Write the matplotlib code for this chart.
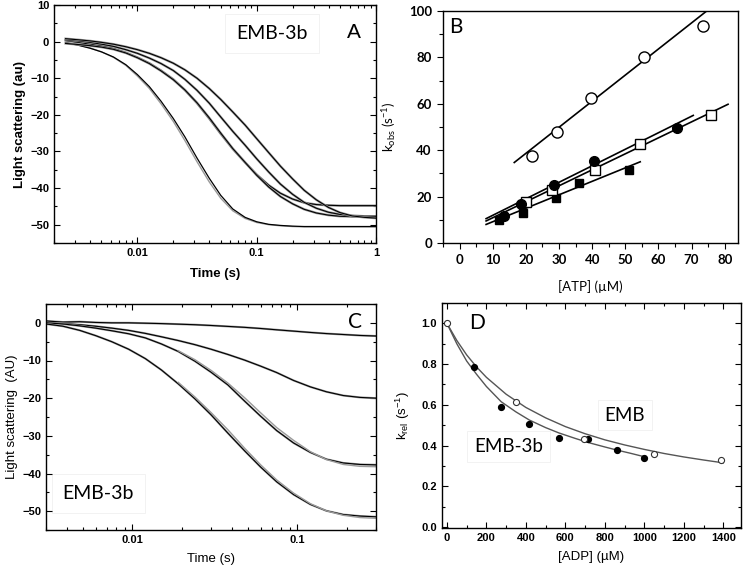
import matplotlib
matplotlib.use("Agg")
import matplotlib.pyplot as plt
from matplotlib.ticker import MultipleLocator, FixedLocator, NullFormatter, LogLocator
import numpy as np

plt.rcParams['font.family'] = ['Liberation Sans', 'DejaVu Sans']

# ---- panel A: light scattering traces, EMB-3b, several [ATP]
tA = [0.0025, 0.0032, 0.004, 0.005, 0.0063, 0.008, 0.01, 0.0126, 0.0158, 0.02,
      0.025, 0.0316, 0.04, 0.05, 0.063, 0.08, 0.1, 0.126, 0.158, 0.2,
      0.25, 0.316, 0.4, 0.5, 0.63, 0.8, 1.0]
a_fast = [-0.3, -1.0, -1.8, -2.8, -4.2, -6.3, -9.0, -12.3, -16.3, -21.0,
          -26.0, -31.8, -37.3, -42.0, -45.7, -48.0, -49.2, -49.9, -50.2, -50.4,
          -50.5, -50.5, -50.5, -50.5, -50.5, -50.5, -50.5]
a_fast_fit = [-0.2, -0.9, -1.7, -2.8, -4.3, -6.5, -9.4, -12.8, -17.0, -21.8,
              -27.0, -32.8, -38.3, -42.8, -46.2, -48.3, -49.4, -50.0, -50.3, -50.5,
              -50.6, -50.6, -50.6, -50.6, -50.6, -50.6, -50.6]
a_2 = [0.3, -0.2, -0.7, -1.2, -1.9, -3.0, -4.3, -5.9, -7.9, -10.3,
       -13.2, -16.8, -21.0, -25.2, -29.3, -33.0, -36.3, -39.2, -41.4, -43.0,
       -44.0, -44.5, -44.7, -44.8, -44.8, -44.8, -44.8]
a_3 = [-0.5, -0.8, -1.1, -1.5, -2.1, -3.1, -4.4, -6.0, -8.0, -10.4,
       -13.2, -16.7, -20.8, -25.0, -29.2, -33.0, -36.5, -39.7, -42.3, -44.3,
       -45.8, -46.8, -47.4, -47.7, -47.8, -47.8, -47.8]
a_4 = [0.5, 0.2, -0.2, -0.7, -1.3, -2.2, -3.2, -4.5, -6.0, -7.9,
       -10.3, -13.3, -16.8, -20.6, -24.5, -28.3, -32.0, -35.6, -38.9, -41.7,
       -43.9, -45.5, -46.6, -47.2, -47.5, -47.7, -47.7]
a_slow = [0.8, 0.5, 0.2, -0.2, -0.7, -1.4, -2.2, -3.2, -4.4, -5.9,
          -7.7, -10.0, -12.8, -15.8, -19.2, -22.8, -26.5, -30.3, -34.0, -37.5,
          -40.6, -43.2, -45.3, -46.7, -47.6, -48.0, -48.2]
traces_A = [a_2, a_3, a_4, a_slow]

# ---- panel B: kobs vs [ATP]
b_oc_x = [22, 29.5, 39.5, 55.5, 73.5]
b_oc_y = [37.5, 48, 62.5, 80, 93.5]
b_fc_x = [13.5, 18.5, 28.5, 40.5, 65.5]
b_fc_y = [11.5, 17, 25, 35.5, 49.5]
b_os_x = [20, 28, 41, 54.5, 76]
b_os_y = [17.5, 23, 31.5, 42.5, 55]
b_fs_x = [12, 19, 29, 36, 51]
b_fs_y = [10, 13, 19.5, 26, 31.5]
# linear fits, end points
b_fit_oc = ([16.5, 75.0], [34.7, 100.5])
b_fit_fc = ([8.0, 70.5], [10.5, 55.0])
b_fit_os = ([8.0, 81.0], [9.5, 59.8])
b_fit_fs = ([8.0, 54.5], [8.0, 35.0])

# ---- panel C: light scattering traces, EMB-3b, with ADP
tC = [0.003, 0.0038, 0.0048, 0.006, 0.0075, 0.0095, 0.012, 0.015, 0.019, 0.024,
      0.03, 0.038, 0.048, 0.06, 0.075, 0.095, 0.12, 0.15, 0.19, 0.24, 0.3]
c_1 = [0.5, 0.2, 0.3, 0.1, 0.0, 0.0, -0.1, -0.2, -0.35, -0.5,
       -0.7, -0.95, -1.2, -1.5, -1.85, -2.2, -2.55, -2.85, -3.1, -3.35, -3.5]
c_2 = [0.0, -0.2, -0.5, -0.9, -1.4, -2.0, -2.8, -3.7, -4.7, -5.8,
       -7.0, -8.4, -9.9, -11.5, -13.2, -15.3, -17.0, -18.3, -19.3, -19.8, -20.0]
c_3 = [0.0, -0.3, -0.8, -1.4, -2.1, -2.9, -4.0, -5.6, -7.6, -10.2,
       -13.1, -16.5, -20.8, -24.8, -28.6, -31.9, -34.4, -36.2, -37.2, -37.6, -37.7]
c_4 = [-0.3, -0.9, -2.0, -3.4, -5.0, -7.0, -9.5, -12.5, -16.2, -20.2,
       -24.4, -29.3, -34.0, -38.3, -42.2, -45.6, -48.2, -49.9, -50.9, -51.3, -51.5]
traces_C = [c_1, c_2, c_3, c_4]
# fitted curves for the two big traces, from t = 0.019 s on
c_3_fit = [-7.4, -9.8, -12.6, -16.0, -19.9, -23.9, -27.8, -31.2, -34.2, -36.3,
           -37.6, -38.1, -38.2]
c_4_fit = [-15.8, -19.7, -23.8, -28.4, -33.3, -37.7, -41.7, -45.2, -48.0, -49.9,
           -51.1, -51.7, -51.9]

# ---- panel D: krel vs [ADP]
d_emb_x = [0, 352, 696, 1047, 1391]
d_emb_y = [1.0, 0.616, 0.431, 0.356, 0.327]
d_3b_x = [138, 275, 418, 567, 715, 860, 1000]
d_3b_y = [0.788, 0.588, 0.508, 0.438, 0.430, 0.377, 0.338]
d_fit_emb_x = [0, 50, 100, 150, 200, 300, 400, 500, 600, 700, 800, 900,
               1000, 1100, 1200, 1300, 1400]
d_fit_emb_y = [1.0, 0.916, 0.845, 0.786, 0.735, 0.652, 0.587, 0.536, 0.493,
               0.458, 0.428, 0.403, 0.381, 0.361, 0.344, 0.329, 0.315]
d_fit_3b_x = [0, 50, 100, 150, 200, 275, 350, 418, 500, 567, 650, 715, 800,
              860, 930, 1000]
d_fit_3b_y = [1.0, 0.9, 0.815, 0.75, 0.69, 0.615, 0.565, 0.525, 0.488, 0.462,
              0.435, 0.415, 0.393, 0.378, 0.362, 0.345]

W, H = 745, 566
fig = plt.figure(figsize=(W / 100, H / 100), dpi=100)

def frame(l, t, r, b):
    return fig.add_axes([l / W, 1 - b / H, (r - l) / W, (b - t) / H])

axA = frame(54, 5, 376, 243)
axB = frame(443, 11, 738, 243)
axC = frame(46, 304, 376, 530)
axD = frame(442, 303, 741, 528)

cal = ['Lato', 'DejaVu Sans']
box = dict(facecolor='white', edgecolor='#f0f0f0', linewidth=0.6)
grey = '#9a9a9a'

def inner_ticks(ax):
    ax.tick_params(which='both', direction='in', top=True, right=True, width=0.8)
    ax.tick_params(which='major', length=4)
    ax.tick_params(which='minor', length=2.5)
    for lab in ax.get_xticklabels() + ax.get_yticklabels():
        lab.set_fontweight('bold')
        lab.set_fontsize(8)
    for s in ax.spines.values():
        s.set_linewidth(1.0)

# A
axA.plot(tA, a_fast_fit, color=grey, lw=1.0)
axA.plot(tA, a_fast, color='black', lw=0.9)
for y in traces_A:
    axA.plot(tA, y, color=grey, lw=1.7)
    axA.plot(tA, y, color='black', lw=0.8)
axA.set_xscale('log')
axA.set_xlim(0.002, 1)
axA.set_ylim(-55, 10)
axA.xaxis.set_major_locator(FixedLocator([0.01, 0.1, 1]))
axA.xaxis.set_minor_locator(LogLocator(subs=np.arange(2, 10)))
axA.xaxis.set_minor_formatter(NullFormatter())
axA.set_xticklabels(['0.01', '0.1', '1'])
axA.yaxis.set_major_locator(MultipleLocator(10))
axA.yaxis.set_minor_locator(MultipleLocator(5))
inner_ticks(axA)
axA.set_xlabel('Time (s)', fontsize=9.5, fontweight='bold', labelpad=7)
axA.set_ylabel('Light scattering (au)', fontsize=9.5, fontweight='bold', labelpad=3)
axA.text(0.677, 0.882, 'EMB-3b', transform=axA.transAxes, ha='center', va='center',
         fontsize=14, family=cal, bbox=dict(box, pad=8), zorder=1)
axA.text(0.93, 0.885, 'A', transform=axA.transAxes, ha='center', va='center',
         fontsize=15)

# B
for xs, ys in [b_fit_oc, b_fit_fc, b_fit_os, b_fit_fs]:
    axB.plot(xs, ys, color='black', lw=1.2)
axB.plot(b_fs_x, b_fs_y, 's', color='black', ms=6, zorder=3)
axB.plot(b_os_x, b_os_y, 's', mfc='white', mec='black', mew=1, ms=6.5, zorder=3)
axB.plot(b_fc_x, b_fc_y, 'o', color='black', ms=7, zorder=4)
axB.plot(b_oc_x, b_oc_y, 'o', mfc='white', mec='black', mew=1, ms=8, zorder=3)
axB.set_xlim(-5, 84)
axB.set_ylim(0, 100)
axB.xaxis.set_major_locator(MultipleLocator(10))
axB.xaxis.set_minor_locator(MultipleLocator(5))
axB.yaxis.set_major_locator(MultipleLocator(20))
axB.yaxis.set_minor_locator(MultipleLocator(10))
axB.tick_params(which='both', direction='out', width=0.8, labelsize=9.5, pad=4)
axB.tick_params(which='major', length=4)
axB.tick_params(which='minor', length=3)
for lab in axB.get_xticklabels() + axB.get_yticklabels():
    lab.set_family(cal)
    lab.set_fontweight('bold')
for s in axB.spines.values():
    s.set_linewidth(1.0)
axB.set_xlabel('[ATP] (\u00b5M)', fontsize=9.5, family=cal, labelpad=10)
axB.set_ylabel('k$_{\\mathregular{obs}}$ (s$^{\\mathregular{-1}}$)', fontsize=9.5,
               family=cal, labelpad=8)
axB.text(0.042, 0.93, 'B', transform=axB.transAxes, ha='center', va='center',
         fontsize=15, family=cal)

# C
for y in traces_C:
    axC.plot(tC, y, color=grey, lw=1.5)
    axC.plot(tC, y, color='black', lw=0.8)
axC.plot(tC[8:], c_3_fit, color=grey, lw=1.0)
axC.plot(tC[8:], c_4_fit, color=grey, lw=1.0)
axC.set_xscale('log')
axC.set_xlim(0.003, 0.3)
axC.set_ylim(-55, 5)
axC.xaxis.set_major_locator(FixedLocator([0.01, 0.1]))
axC.xaxis.set_minor_locator(LogLocator(subs=np.arange(2, 10)))
axC.xaxis.set_minor_formatter(NullFormatter())
axC.set_xticklabels(['0.01', '0.1'])
axC.yaxis.set_major_locator(MultipleLocator(10))
axC.yaxis.set_minor_locator(MultipleLocator(5))
inner_ticks(axC)
axC.set_xlabel('Time (s)', fontsize=9.5, labelpad=6)
axC.set_ylabel('Light scattering  (AU)', fontsize=9.5, labelpad=3)
axC.text(0.159, 0.162, 'EMB-3b', transform=axC.transAxes, ha='center', va='center',
         fontsize=14, family=cal, bbox=dict(box, pad=8), zorder=1)
axC.text(0.936, 0.922, 'C', transform=axC.transAxes, ha='center', va='center',
         fontsize=15, family=cal)

# D
axD.plot(d_fit_emb_x, d_fit_emb_y, color='#555555', lw=1.0, zorder=2)
axD.plot(d_fit_3b_x, d_fit_3b_y, color='#555555', lw=1.0, zorder=2)
axD.plot(d_3b_x, d_3b_y, 'o', color='black', ms=4.2, zorder=3)
axD.plot(d_emb_x, d_emb_y, 'o', mfc='white', mec='#333333', mew=0.8, ms=4.4, zorder=3)
axD.set_xlim(-25, 1490)
axD.set_ylim(-0.005, 1.1)
axD.xaxis.set_major_locator(MultipleLocator(200))
axD.xaxis.set_minor_locator(MultipleLocator(100))
axD.yaxis.set_major_locator(MultipleLocator(0.2))
axD.yaxis.set_minor_locator(MultipleLocator(0.1))
axD.yaxis.set_major_formatter(plt.FuncFormatter(lambda v, p: '%.1f' % v))
inner_ticks(axD)
axD.set_xlabel('[ADP] (\u00b5M)', fontsize=9.5, labelpad=6)
axD.set_ylabel('k$_{\\mathregular{rel}}$ (s$^{\\mathregular{-1}}$)', fontsize=9.5, labelpad=7)
axD.text(0.116, 0.91, 'D', transform=axD.transAxes, ha='center', va='center',
         fontsize=15, family=cal)
axD.text(0.612, 0.502, 'EMB', transform=axD.transAxes, ha='center', va='center',
         fontsize=13.5, family=cal, bbox=dict(box, pad=5), zorder=1)
axD.text(0.222, 0.361, 'EMB-3b', transform=axD.transAxes, ha='center', va='center',
         fontsize=13.5, family=cal, bbox=dict(box, pad=5), zorder=1)

fig.savefig('out.png', dpi=100, facecolor='white')
